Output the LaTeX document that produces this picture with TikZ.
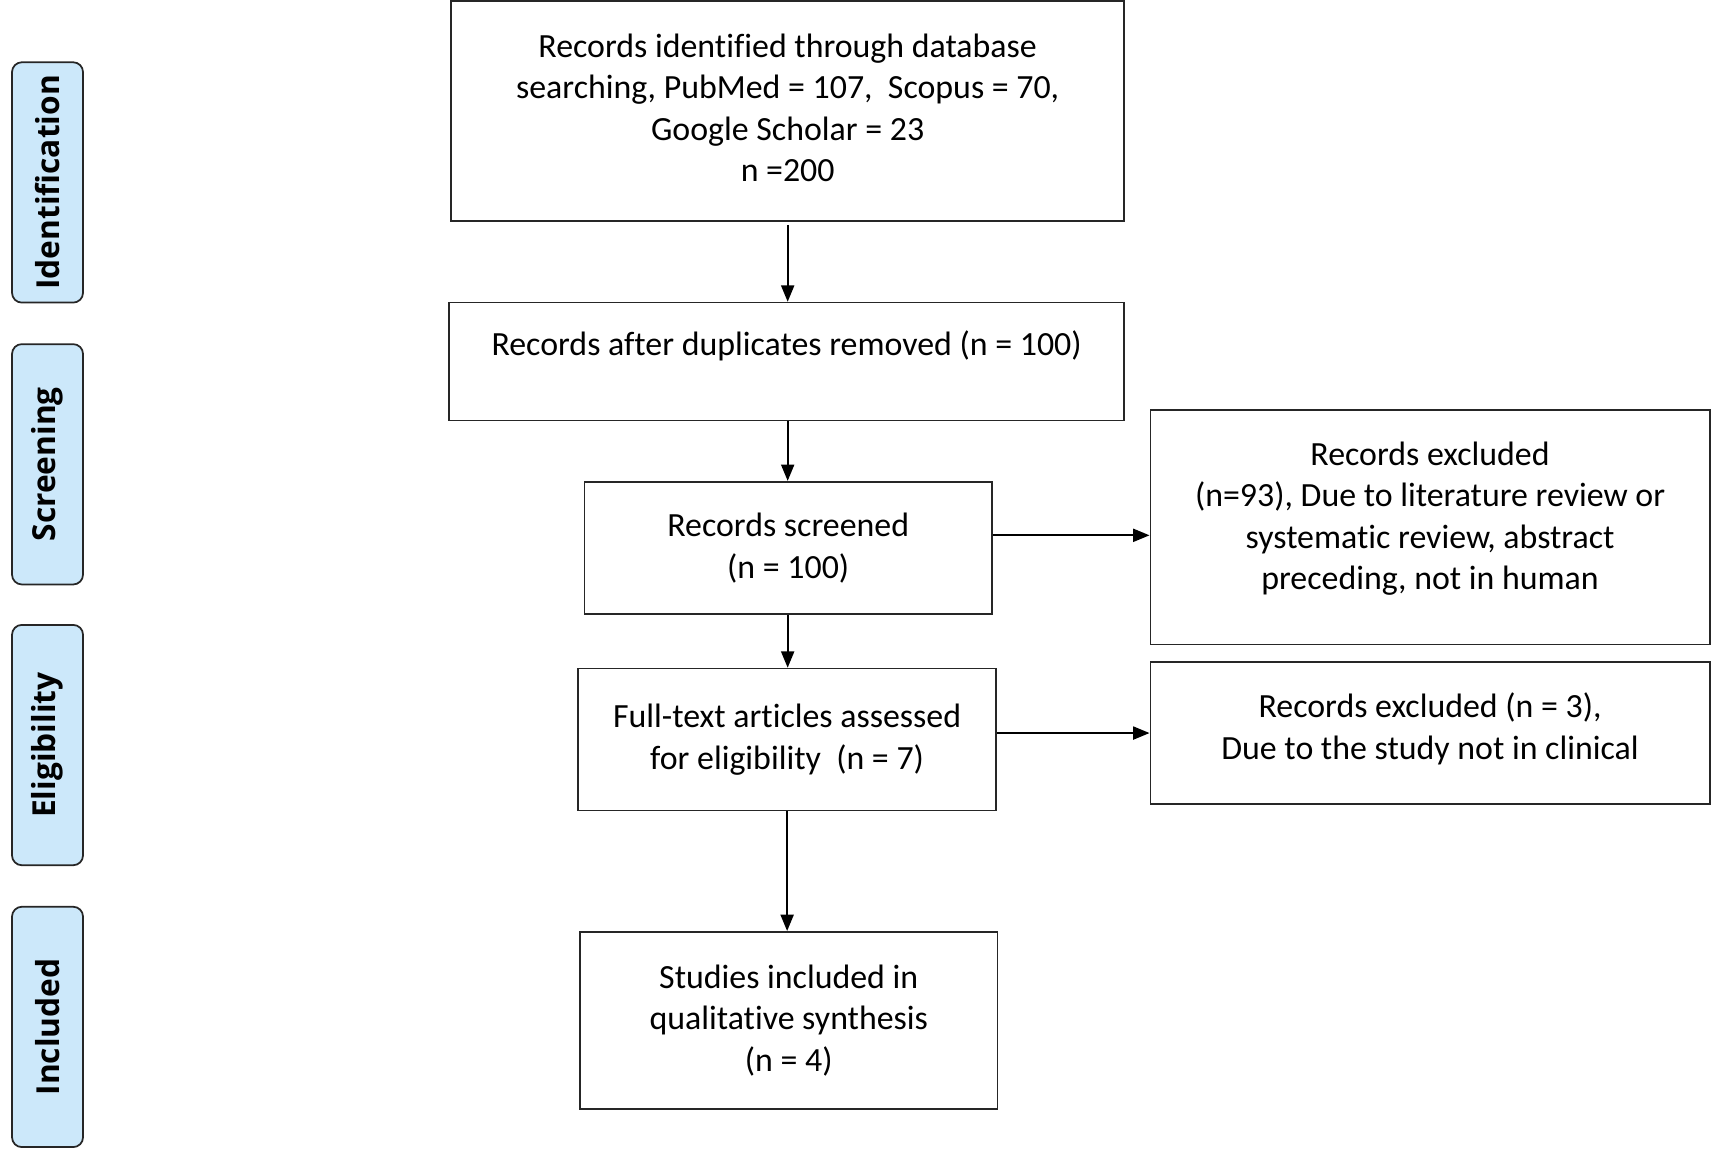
\documentclass[tikz,border=0pt]{standalone}
\usepackage{fontspec}
\setmainfont{Carlito}[Ligatures=CommonOff]
\newfontfamily\sidefont{Open Sans}
\usetikzlibrary{arrows.meta}
\definecolor{sideblue}{RGB}{204,232,250}
\begin{document}
\begin{tikzpicture}[x=1pt,y=1pt,
  box/.style={draw=black!85, line width=1.6pt, align=center, inner sep=0pt,
    font=\fontsize{31}{38}\selectfont},
  side/.style={draw=black!85, line width=1.6pt, fill=sideblue, rounded corners=9pt,
    rotate=90, minimum width=220pt, minimum height=65pt, inner sep=0pt,
    font=\sidefont\bfseries\fontsize{29}{34}\selectfont},
  arr/.style={line width=1.6pt, -{Triangle[length=15pt,width=12pt]}}]
\useasboundingbox (0,0) rectangle (1568,-1056);

% side labels
\node[side] (sid) at (43.5,-167) {Identification};
\node[side] (sscr) at (43.5,-425) {Screening};
\node[side] (selig) at (43.5,-682) {Eligibility};
\node[side] (sinc) at (43.5,-940) {Included};

% main boxes
\node[box, minimum width=616pt, minimum height=201pt, text depth=6pt] (top) at (721,-101.5)
  {Records identified through database\\searching, PubMed = 107,\ \ Scopus = 70,\\Google Scholar = 23\\n =200};
\node[box, minimum width=618pt, minimum height=108pt, text depth=33pt] (b2) at (720,-331)
  {Records after duplicates removed (n = 100)};
\node[box, minimum width=373pt, minimum height=121pt] (scr) at (721.5,-501.5)
  {Records screened\\(n = 100)};
\node[box, minimum width=383pt, minimum height=130pt] (ft) at (720.5,-677)
  {Full-text articles assessed\\for eligibility\ \ (n = 7)};
\node[box, minimum width=382pt, minimum height=162pt] (inc) at (722,-934)
  {Studies included in\\qualitative synthesis\\(n = 4)};
\node[box, minimum width=512pt, minimum height=215pt, text depth=21pt] (ex1) at (1309,-482.5)
  {Records excluded\\(n=93), Due to literature review or\\systematic review, abstract\\preceding, not in human};
\node[box, minimum width=512pt, minimum height=130pt, text depth=13pt] (ex2) at (1309,-671)
  {Records excluded (n = 3),\\Due to the study not in clinical};

% connectors
\draw[arr] ([yshift=-3pt]top.south) coordinate (c1) -- (c1 |- b2.north);
\draw[arr] ([xshift=1pt]b2.south) coordinate (c2) -- (c2 |- scr.north);
\draw[arr] ([xshift=-0.5pt]scr.south) coordinate (c3) -- (c3 |- ft.north);
\draw[arr] (ft.south) coordinate (c4) -- (c4 |- inc.north);
\draw[arr] ([yshift=11.5pt]scr.east) coordinate (c5) -- (c5 -| ex1.west);
\draw[arr] ([yshift=6pt]ft.east) coordinate (c6) -- (c6 -| ex2.west);
\end{tikzpicture}
\end{document}
